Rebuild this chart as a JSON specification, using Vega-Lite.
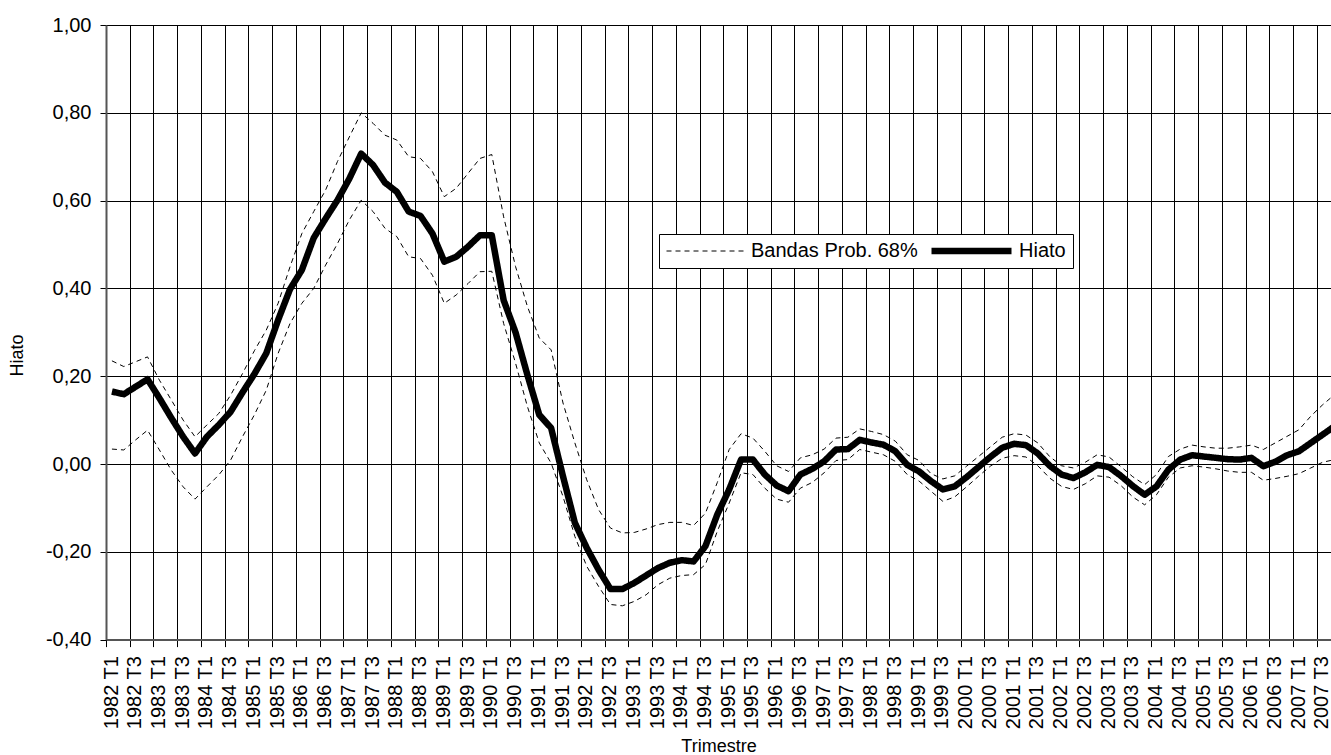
{
  "$schema": "https://vega.github.io/schema/vega-lite/v6.json",
  "width": 1225,
  "height": 614.6,
  "autosize": "none",
  "padding": {"left": 106, "top": 25, "right": 0, "bottom": 115.4},
  "background": "#ffffff",
  "config": {
    "view": {"stroke": null},
    "font": "Liberation Sans",
    "legend": {
      "orient": "none",
      "legendX": 553,
      "legendY": 209,
      "direction": "horizontal",
      "symbolType": "stroke",
      "symbolSize": 6400,
      "clipHeight": 20,
      "labelFontSize": 20,
      "labelFont": "Liberation Sans",
      "labelColor": "#000000",
      "labelLimit": 400,
      "labelOffset": 4,
      "columnPadding": 10,
      "padding": 7,
      "strokeColor": "#000000",
      "fillColor": "#ffffff",
      "cornerRadius": 0
    }
  },
  "data": {
    "values": [
      {"i":0,"t":"1982 T1","h":0.165,"s":0.235,"l":0.034},
      {"i":1,"t":"1982 T2","h":0.159,"s":0.222,"l":0.032},
      {"i":2,"t":"1982 T3","h":0.176,"s":0.233,"l":0.055},
      {"i":3,"t":"1982 T4","h":0.193,"s":0.244,"l":0.077},
      {"i":4,"t":"1983 T1","h":0.150,"s":0.191,"l":0.032},
      {"i":5,"t":"1983 T2","h":0.105,"s":0.146,"l":-0.014},
      {"i":6,"t":"1983 T3","h":0.062,"s":0.100,"l":-0.052},
      {"i":7,"t":"1983 T4","h":0.024,"s":0.062,"l":-0.080},
      {"i":8,"t":"1984 T1","h":0.062,"s":0.089,"l":-0.052},
      {"i":9,"t":"1984 T2","h":0.089,"s":0.115,"l":-0.025},
      {"i":10,"t":"1984 T3","h":0.119,"s":0.157,"l":0.009},
      {"i":11,"t":"1984 T4","h":0.163,"s":0.206,"l":0.062},
      {"i":12,"t":"1985 T1","h":0.205,"s":0.258,"l":0.112},
      {"i":13,"t":"1985 T2","h":0.252,"s":0.305,"l":0.168},
      {"i":14,"t":"1985 T3","h":0.328,"s":0.366,"l":0.252},
      {"i":15,"t":"1985 T4","h":0.398,"s":0.449,"l":0.320},
      {"i":16,"t":"1986 T1","h":0.442,"s":0.525,"l":0.366},
      {"i":17,"t":"1986 T2","h":0.515,"s":0.575,"l":0.400},
      {"i":18,"t":"1986 T3","h":0.559,"s":0.624,"l":0.453},
      {"i":19,"t":"1986 T4","h":0.601,"s":0.689,"l":0.502},
      {"i":20,"t":"1987 T1","h":0.650,"s":0.745,"l":0.556},
      {"i":21,"t":"1987 T2","h":0.707,"s":0.800,"l":0.601},
      {"i":22,"t":"1987 T3","h":0.681,"s":0.776,"l":0.575},
      {"i":23,"t":"1987 T4","h":0.641,"s":0.749,"l":0.537},
      {"i":24,"t":"1988 T1","h":0.620,"s":0.738,"l":0.518},
      {"i":25,"t":"1988 T2","h":0.575,"s":0.700,"l":0.472},
      {"i":26,"t":"1988 T3","h":0.565,"s":0.696,"l":0.468},
      {"i":27,"t":"1988 T4","h":0.525,"s":0.666,"l":0.430},
      {"i":28,"t":"1989 T1","h":0.461,"s":0.609,"l":0.366},
      {"i":29,"t":"1989 T2","h":0.472,"s":0.628,"l":0.385},
      {"i":30,"t":"1989 T3","h":0.495,"s":0.662,"l":0.411},
      {"i":31,"t":"1989 T4","h":0.521,"s":0.696,"l":0.438},
      {"i":32,"t":"1990 T1","h":0.521,"s":0.705,"l":0.439},
      {"i":33,"t":"1990 T2","h":0.373,"s":0.563,"l":0.320},
      {"i":34,"t":"1990 T3","h":0.300,"s":0.450,"l":0.230},
      {"i":35,"t":"1990 T4","h":0.203,"s":0.359,"l":0.131},
      {"i":36,"t":"1991 T1","h":0.112,"s":0.287,"l":0.048},
      {"i":37,"t":"1991 T2","h":0.082,"s":0.260,"l":0.002},
      {"i":38,"t":"1991 T3","h":-0.028,"s":0.139,"l":-0.074},
      {"i":39,"t":"1991 T4","h":-0.134,"s":0.048,"l":-0.165},
      {"i":40,"t":"1992 T1","h":-0.191,"s":-0.036,"l":-0.233},
      {"i":41,"t":"1992 T2","h":-0.241,"s":-0.104,"l":-0.279},
      {"i":42,"t":"1992 T3","h":-0.285,"s":-0.146,"l":-0.320},
      {"i":43,"t":"1992 T4","h":-0.285,"s":-0.157,"l":-0.323},
      {"i":44,"t":"1993 T1","h":-0.271,"s":-0.156,"l":-0.313},
      {"i":45,"t":"1993 T2","h":-0.254,"s":-0.148,"l":-0.298},
      {"i":46,"t":"1993 T3","h":-0.237,"s":-0.138,"l":-0.275},
      {"i":47,"t":"1993 T4","h":-0.225,"s":-0.133,"l":-0.260},
      {"i":48,"t":"1994 T1","h":-0.219,"s":-0.133,"l":-0.254},
      {"i":49,"t":"1994 T2","h":-0.222,"s":-0.140,"l":-0.252},
      {"i":50,"t":"1994 T3","h":-0.187,"s":-0.112,"l":-0.229},
      {"i":51,"t":"1994 T4","h":-0.115,"s":-0.042,"l":-0.153},
      {"i":52,"t":"1995 T1","h":-0.058,"s":0.033,"l":-0.089},
      {"i":53,"t":"1995 T2","h":0.010,"s":0.069,"l":-0.020},
      {"i":54,"t":"1995 T3","h":0.010,"s":0.059,"l":-0.024},
      {"i":55,"t":"1995 T4","h":-0.024,"s":0.029,"l":-0.055},
      {"i":56,"t":"1996 T1","h":-0.049,"s":-0.004,"l":-0.080},
      {"i":57,"t":"1996 T2","h":-0.062,"s":-0.017,"l":-0.087},
      {"i":58,"t":"1996 T3","h":-0.024,"s":0.014,"l":-0.055},
      {"i":59,"t":"1996 T4","h":-0.011,"s":0.021,"l":-0.042},
      {"i":60,"t":"1997 T1","h":0.006,"s":0.034,"l":-0.020},
      {"i":61,"t":"1997 T2","h":0.033,"s":0.059,"l":0.008},
      {"i":62,"t":"1997 T3","h":0.034,"s":0.061,"l":0.010},
      {"i":63,"t":"1997 T4","h":0.055,"s":0.080,"l":0.033},
      {"i":64,"t":"1998 T1","h":0.049,"s":0.074,"l":0.027},
      {"i":65,"t":"1998 T2","h":0.044,"s":0.067,"l":0.021},
      {"i":66,"t":"1998 T3","h":0.029,"s":0.052,"l":0.006},
      {"i":67,"t":"1998 T4","h":-0.002,"s":0.021,"l":-0.024},
      {"i":68,"t":"1999 T1","h":-0.017,"s":0.008,"l":-0.039},
      {"i":69,"t":"1999 T2","h":-0.039,"s":-0.022,"l":-0.062},
      {"i":70,"t":"1999 T3","h":-0.058,"s":-0.034,"l":-0.085},
      {"i":71,"t":"1999 T4","h":-0.051,"s":-0.027,"l":-0.075},
      {"i":72,"t":"2000 T1","h":-0.030,"s":-0.005,"l":-0.052},
      {"i":73,"t":"2000 T2","h":-0.007,"s":0.017,"l":-0.028},
      {"i":74,"t":"2000 T3","h":0.016,"s":0.039,"l":-0.005},
      {"i":75,"t":"2000 T4","h":0.037,"s":0.061,"l":0.013},
      {"i":76,"t":"2001 T1","h":0.046,"s":0.069,"l":0.019},
      {"i":77,"t":"2001 T2","h":0.043,"s":0.066,"l":0.016},
      {"i":78,"t":"2001 T3","h":0.024,"s":0.048,"l":-0.004},
      {"i":79,"t":"2001 T4","h":-0.004,"s":0.017,"l":-0.032},
      {"i":80,"t":"2002 T1","h":-0.024,"s":-0.004,"l":-0.051},
      {"i":81,"t":"2002 T2","h":-0.032,"s":-0.009,"l":-0.058},
      {"i":82,"t":"2002 T3","h":-0.019,"s":0.004,"l":-0.045},
      {"i":83,"t":"2002 T4","h":-0.002,"s":0.021,"l":-0.027},
      {"i":84,"t":"2003 T1","h":-0.007,"s":0.016,"l":-0.030},
      {"i":85,"t":"2003 T2","h":-0.027,"s":-0.006,"l":-0.049},
      {"i":86,"t":"2003 T3","h":-0.050,"s":-0.029,"l":-0.075},
      {"i":87,"t":"2003 T4","h":-0.070,"s":-0.047,"l":-0.093},
      {"i":88,"t":"2004 T1","h":-0.051,"s":-0.024,"l":-0.070},
      {"i":89,"t":"2004 T2","h":-0.013,"s":0.017,"l":-0.030},
      {"i":90,"t":"2004 T3","h":0.010,"s":0.034,"l":-0.009},
      {"i":91,"t":"2004 T4","h":0.020,"s":0.043,"l":-0.004},
      {"i":92,"t":"2005 T1","h":0.017,"s":0.039,"l":-0.007},
      {"i":93,"t":"2005 T2","h":0.014,"s":0.036,"l":-0.011},
      {"i":94,"t":"2005 T3","h":0.011,"s":0.036,"l":-0.016},
      {"i":95,"t":"2005 T4","h":0.010,"s":0.039,"l":-0.019},
      {"i":96,"t":"2006 T1","h":0.014,"s":0.043,"l":-0.019},
      {"i":97,"t":"2006 T2","h":-0.005,"s":0.033,"l":-0.037},
      {"i":98,"t":"2006 T3","h":0.005,"s":0.048,"l":-0.033},
      {"i":99,"t":"2006 T4","h":0.020,"s":0.063,"l":-0.028},
      {"i":100,"t":"2007 T1","h":0.029,"s":0.078,"l":-0.022},
      {"i":101,"t":"2007 T2","h":0.048,"s":0.109,"l":-0.009},
      {"i":102,"t":"2007 T3","h":0.067,"s":0.135,"l":0.004},
      {"i":103,"t":"2007 T4","h":0.086,"s":0.158,"l":0.010}
    ]
  },
  "encoding": {
    "x": {
      "field": "i",
      "type": "quantitative",
      "scale": {"domain": [-0.5, 102.7], "nice": false, "zero": false},
      "axis": {
        "values": [-0.5,1.5,3.5,5.5,7.5,9.5,11.5,13.5,15.5,17.5,19.5,21.5,23.5,25.5,27.5,29.5,31.5,33.5,35.5,37.5,39.5,41.5,43.5,45.5,47.5,49.5,51.5,53.5,55.5,57.5,59.5,61.5,63.5,65.5,67.5,69.5,71.5,73.5,75.5,77.5,79.5,81.5,83.5,85.5,87.5,89.5,91.5,93.5,95.5,97.5,99.5,101.5],
        "labelExpr": "(1982 + floor((datum.value + 0.5) / 4)) + ' T' + (((datum.value + 0.5) % 4) + 1)",
        "labelAngle": 270,
        "labelAlign": "right",
        "labelBaseline": "middle",
        "labelOffset": 5,
        "labelFontSize": 20,
        "labelFont": "Liberation Sans",
        "labelColor": "#000000",
        "labelPadding": 9,
        "labelOverlap": false,
        "labelBound": false,
        "labelFlush": false,
        "tickSize": 7,
        "tickColor": "#000000",
        "grid": true,
        "gridColor": "#000000",
        "gridWidth": 1,
        "domainColor": "#555555",
        "domainWidth": 2,
        "title": "Trimestre",
        "titleFontSize": 18,
        "titleFont": "Liberation Sans",
        "titleFontWeight": "normal",
        "titleColor": "#000000",
        "titlePadding": 9
      }
    }
  },
  "layer": [
    {
      "mark": {"type": "line", "clip": true, "strokeJoin": "round"},
      "encoding": {
        "y": {
          "field": "s",
          "type": "quantitative",
          "scale": {"domain": [-0.4, 1.0], "nice": false, "zero": false},
          "axis": {
            "values": [-0.4, -0.2, 0, 0.2, 0.4, 0.6, 0.8, 1.0],
            "labelExpr": "(datum.value < -0.0001 ? '-' : '') + replace(format(abs(datum.value), '.2f'), '.', ',')",
            "labelFontSize": 20, "labelFont": "Liberation Sans", "labelColor": "#000000", "labelPadding": 9,
            "tickSize": 6, "tickColor": "#000000",
            "grid": true, "gridColor": "#000000", "gridWidth": 1,
            "domainColor": "#555555", "domainWidth": 2,
            "title": "Hiato", "titleFontSize": 18, "titleFont": "Liberation Sans", "titleFontWeight": "normal", "titleColor": "#000000",
            "titleX": -89, "titleY": 330, "titleAngle": 270, "titleAlign": "center", "titleBaseline": "middle"
          }
        },
        "color": {"datum": "Bandas Prob. 68%", "type": "nominal", "scale": {"domain": ["Bandas Prob. 68%", "Hiato"], "range": ["#000000", "#000000"]}, "legend": {"title": null}},
        "strokeDash": {"datum": "Bandas Prob. 68%", "type": "nominal", "scale": {"domain": ["Bandas Prob. 68%", "Hiato"], "range": [[5, 4], [1, 0]]}, "legend": {"title": null}},
        "strokeWidth": {"datum": "Bandas Prob. 68%", "type": "nominal", "scale": {"domain": ["Bandas Prob. 68%", "Hiato"], "range": [1, 6.5]}, "legend": {"title": null}}
      }
    },
    {
      "mark": {"type": "line", "clip": true, "strokeJoin": "round"},
      "encoding": {
        "y": {
          "field": "l",
          "type": "quantitative",
          "scale": {"domain": [-0.4, 1.0], "nice": false, "zero": false},
          "axis": {
            "values": [-0.4, -0.2, 0, 0.2, 0.4, 0.6, 0.8, 1.0],
            "labelExpr": "(datum.value < -0.0001 ? '-' : '') + replace(format(abs(datum.value), '.2f'), '.', ',')",
            "labelFontSize": 20, "labelFont": "Liberation Sans", "labelColor": "#000000", "labelPadding": 9,
            "tickSize": 6, "tickColor": "#000000",
            "grid": true, "gridColor": "#000000", "gridWidth": 1,
            "domainColor": "#555555", "domainWidth": 2,
            "title": "Hiato", "titleFontSize": 18, "titleFont": "Liberation Sans", "titleFontWeight": "normal", "titleColor": "#000000",
            "titleX": -89, "titleY": 330, "titleAngle": 270, "titleAlign": "center", "titleBaseline": "middle"
          }
        },
        "color": {"datum": "Bandas Prob. 68%", "type": "nominal", "scale": {"domain": ["Bandas Prob. 68%", "Hiato"], "range": ["#000000", "#000000"]}, "legend": {"title": null}},
        "strokeDash": {"datum": "Bandas Prob. 68%", "type": "nominal", "scale": {"domain": ["Bandas Prob. 68%", "Hiato"], "range": [[5, 4], [1, 0]]}, "legend": {"title": null}},
        "strokeWidth": {"datum": "Bandas Prob. 68%", "type": "nominal", "scale": {"domain": ["Bandas Prob. 68%", "Hiato"], "range": [1, 6.5]}, "legend": {"title": null}}
      }
    },
    {
      "mark": {"type": "line", "clip": true, "strokeJoin": "round"},
      "encoding": {
        "y": {
          "field": "h",
          "type": "quantitative",
          "scale": {"domain": [-0.4, 1.0], "nice": false, "zero": false},
          "axis": {
            "values": [-0.4, -0.2, 0, 0.2, 0.4, 0.6, 0.8, 1.0],
            "labelExpr": "(datum.value < -0.0001 ? '-' : '') + replace(format(abs(datum.value), '.2f'), '.', ',')",
            "labelFontSize": 20, "labelFont": "Liberation Sans", "labelColor": "#000000", "labelPadding": 9,
            "tickSize": 6, "tickColor": "#000000",
            "grid": true, "gridColor": "#000000", "gridWidth": 1,
            "domainColor": "#555555", "domainWidth": 2,
            "title": "Hiato", "titleFontSize": 18, "titleFont": "Liberation Sans", "titleFontWeight": "normal", "titleColor": "#000000",
            "titleX": -89, "titleY": 330, "titleAngle": 270, "titleAlign": "center", "titleBaseline": "middle"
          }
        },
        "color": {"datum": "Hiato", "type": "nominal", "scale": {"domain": ["Bandas Prob. 68%", "Hiato"], "range": ["#000000", "#000000"]}, "legend": {"title": null}},
        "strokeDash": {"datum": "Hiato", "type": "nominal", "scale": {"domain": ["Bandas Prob. 68%", "Hiato"], "range": [[5, 4], [1, 0]]}, "legend": {"title": null}},
        "strokeWidth": {"datum": "Hiato", "type": "nominal", "scale": {"domain": ["Bandas Prob. 68%", "Hiato"], "range": [1, 6.5]}, "legend": {"title": null}}
      }
    }
  ]
}
